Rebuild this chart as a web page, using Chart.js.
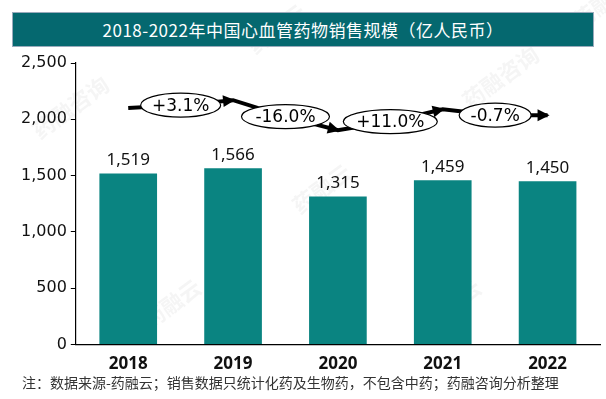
<!DOCTYPE html>
<html>
<head>
<meta charset="utf-8">
<script src="https://cdn.jsdelivr.net/npm/chart.js@4.4.0/dist/chart.umd.min.js"></script>
<style>
  body { margin: 0; background: #fff; }
  #wrap { position: relative; width: 606px; height: 399px; overflow: hidden; }
  #title {
    position: absolute; left: 12px; top: 12px; width: 580px; height: 33px;
    background: #05686f; border: 1px solid #9ab; color: #fff;
    font: 17px "Noto Sans CJK SC", "Noto Sans", sans-serif;
    line-height: 33px; text-align: center; letter-spacing: 0.5px;
  }
  #note {
    position: absolute; left: 22px; top: 372px;
    font: 14px "Noto Sans CJK SC", sans-serif; color: #333;
  }
</style>
</head>
<body>
<div id="wrap">
  <canvas id="chart" width="606" height="399"></canvas>
  <div id="title">2018-2022年中国心血管药物销售规模（亿人民币）</div>
  <div id="note">注：数据来源-药融云；销售数据只统计化药及生物药，不包含中药；药融咨询分析整理</div>
</div>
<script>
const years = ["2018", "2019", "2020", "2021", "2022"];
const sales = [1519, 1566, 1315, 1459, 1450];
const growth = ["+3.1%", "-16.0%", "+11.0%", "-0.7%"];
// arrow path heights (value units) at each year and at each growth bubble
const arrowKnots = [2100, 2170, 1904, 2090, 2037];
const bubbleLevels = [2126, 2024, 1980, 2037];
const bubbleWidths = [40, 44, 47, 36];

const barColor = "#0a8481";

const watermark = {
  id: "watermark",
  beforeDraw(chart) {
    const ctx = chart.ctx;
    const marks = [
      [40, 140, "药融咨询"], [150, 330, "药融云"], [255, 55, "药融云"],
      [300, 215, "药融云"], [430, 330, "药融云"], [470, 110, "药融咨询"], [580, 30, "药融云"]
    ];
    ctx.save();
    ctx.fillStyle = "rgba(120,120,120,0.07)";
    ctx.font = "bold 22px 'Noto Sans CJK SC'";
    marks.forEach(([x, y, t]) => {
      ctx.save();
      ctx.translate(x, y);
      ctx.rotate(-Math.PI / 5);
      ctx.fillText(t, 0, 0);
      ctx.restore();
    });
    ctx.restore();
  }
};

const valueLabels = {
  id: "valueLabels",
  afterDatasetsDraw(chart) {
    const ctx = chart.ctx;
    const meta = chart.getDatasetMeta(0);
    ctx.save();
    ctx.font = "17px 'Noto Sans'";
    ctx.fillStyle = "#111";
    ctx.textAlign = "center";
    ctx.textBaseline = "bottom";
    meta.data.forEach((bar, i) => {
      ctx.fillText(sales[i].toLocaleString("en-US"), bar.x, bar.y - 5);
    });
    ctx.restore();
  }
};

const growthArrows = {
  id: "growthArrows",
  afterDraw(chart) {
    const ctx = chart.ctx;
    const xs = chart.scales.x, ys = chart.scales.y;
    const knots = arrowKnots.map((v, i) => [xs.getPixelForValue(i), ys.getPixelForValue(v)]);
    const bubbles = bubbleLevels.map((v, i) => [xs.getPixelForValue(i + 0.5), ys.getPixelForValue(v)]);
    ctx.save();
    ctx.strokeStyle = "#000";
    ctx.fillStyle = "#000";
    ctx.lineWidth = 4;
    ctx.beginPath();
    ctx.moveTo(knots[0][0], knots[0][1]);
    bubbles.forEach((b, i) => {
      ctx.lineTo(b[0], b[1]);
      ctx.lineTo(knots[i + 1][0], knots[i + 1][1]);
    });
    ctx.stroke();
    bubbles.forEach((b, i) => {
      const [kx, ky] = knots[i + 1];
      const ang = Math.atan2(ky - b[1], kx - b[0]);
      ctx.save();
      ctx.translate(kx, ky);
      ctx.rotate(ang);
      ctx.beginPath();
      ctx.moveTo(2, 0);
      ctx.lineTo(-10, -6);
      ctx.lineTo(-10, 6);
      ctx.closePath();
      ctx.fill();
      ctx.restore();
    });
    ctx.lineWidth = 1.2;
    ctx.font = "17px 'DejaVu Sans'";
    ctx.textAlign = "center";
    ctx.textBaseline = "middle";
    bubbles.forEach((b, i) => {
      ctx.beginPath();
      ctx.ellipse(b[0], b[1], bubbleWidths[i], 12, 0, 0, Math.PI * 2);
      ctx.fillStyle = "#fff";
      ctx.fill();
      ctx.stroke();
      ctx.fillStyle = "#000";
      ctx.fillText(growth[i], b[0], b[1] + 1);
    });
    ctx.restore();
  }
};

new Chart(document.getElementById("chart"), {
  type: "bar",
  data: {
    labels: years,
    datasets: [{
      data: sales,
      backgroundColor: barColor,
      categoryPercentage: 0.55,
      barPercentage: 1.0
    }]
  },
  options: {
    responsive: false,
    animation: false,
    events: [],
    layout: { padding: { left: 17, right: 6, top: 63, bottom: 16 } },
    plugins: { legend: { display: false }, tooltip: { enabled: false } },
    scales: {
      x: {
        grid: { display: false, drawTicks: false },
        border: { color: "#000", width: 1.2 },
        ticks: {
          color: "#111",
          padding: 9,
          font: { family: "Noto Sans", size: 17, weight: "bold" }
        }
      },
      y: {
        min: 0, max: 2500,
        grid: { drawOnChartArea: false, tickLength: 5, color: "#000" },
        border: { color: "#000", width: 1.2 },
        ticks: {
          stepSize: 500,
          color: "#111",
          padding: 4,
          font: { family: "DejaVu Sans", size: 16 },
          callback: v => v.toLocaleString("en-US")
        }
      }
    }
  },
  plugins: [watermark, valueLabels, growthArrows]
});
</script>
</body>
</html>
